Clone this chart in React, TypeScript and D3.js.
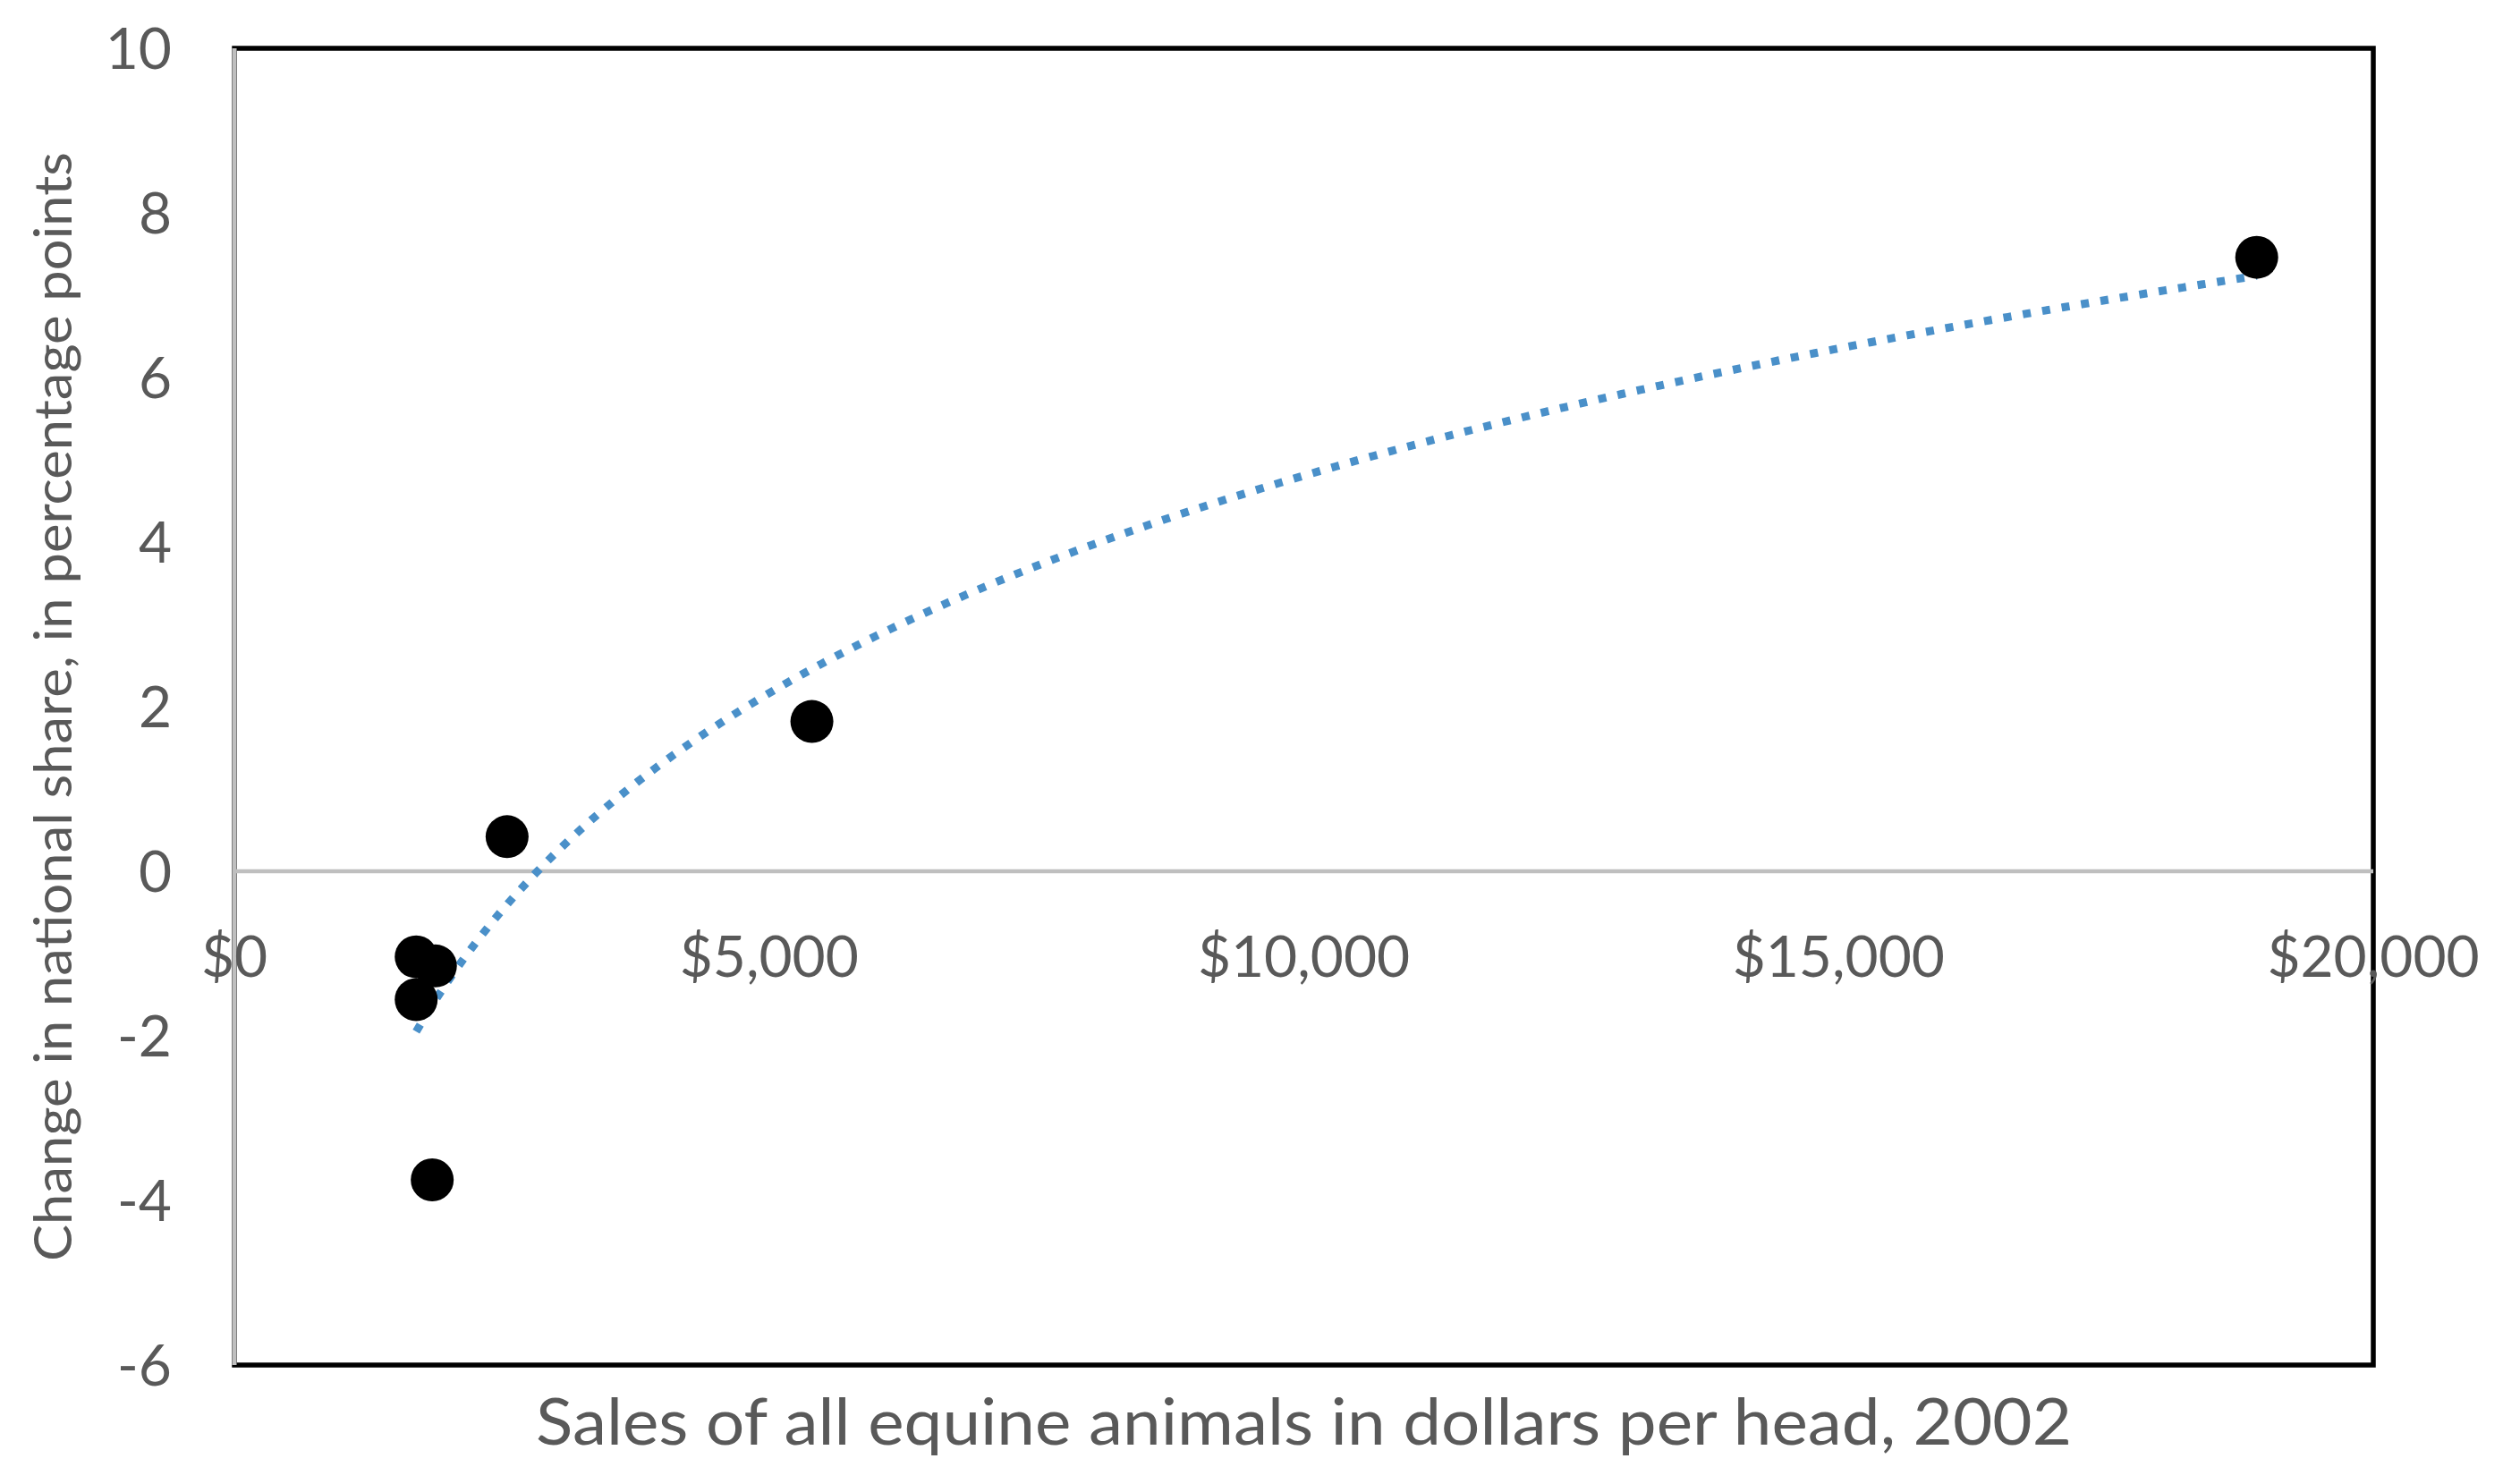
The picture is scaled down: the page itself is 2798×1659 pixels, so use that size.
import { useEffect, useRef } from 'react';
import * as d3 from 'd3';

// sales of equine animals per head (x) and change in national share (y)
const salesPerHead = [1700, 1700, 1880, 1850, 2550, 5400, 18910];
const shareChange = [-1.04, -1.56, -1.15, -3.75, 0.42, 1.82, 7.46];

const xTicks = [0, 5000, 10000, 15000, 20000];
const yTicks = [-6, -4, -2, 0, 2, 4, 6, 8, 10];

const xTitle = 'Sales of all equine animals in dollars per head, 2002';
const yTitle = 'Change in national share, in percentage points';

const CHART = {
    width: 2798,
    height: 1659,
    margin: { left: 262, right: 145, top: 54, bottom: 133 }
};

// least squares fit of y = a*ln(x) + b, like Excel's logarithmic trendline
function logFit(xs: number[], ys: number[]) {
    const lx = xs.map((x) => Math.log(x));
    const mx = d3.mean(lx) as number;
    const my = d3.mean(ys) as number;
    let sxy = 0, sxx = 0;
    lx.forEach((v, i) => {
        sxy += (v - mx) * (ys[i] - my);
        sxx += (v - mx) * (v - mx);
    });
    const a = sxy / sxx;
    const b = my - a * mx;
    return (x: number) => a * Math.log(x) + b;
}

export default function App() {
    const chartArea = useRef<SVGGElement>(null);

    const innerW = CHART.width - CHART.margin.left - CHART.margin.right;
    const innerH = CHART.height - CHART.margin.top - CHART.margin.bottom;

    const xScale = d3.scaleLinear().domain([0, 20000]).range([0, innerW]);
    const yScale = d3.scaleLinear().domain([-6, 10]).range([innerH, 0]);

    useEffect(() => {
        const g = d3.select(chartArea.current);
        g.selectAll('*').remove();

        const fit = logFit(salesPerHead, shareChange);
        const [xMin, xMax] = d3.extent(salesPerHead) as [number, number];
        const samples = d3.range(0, 201).map((i) => xMin + (xMax - xMin) * i / 200);

        // plot frame
        g.append('rect')
            .attr('x', 0).attr('y', 0)
            .attr('width', innerW).attr('height', innerH)
            .attr('fill', 'none')
            .attr('stroke', '#000')
            .attr('stroke-width', 5.5);

        // y axis line
        g.append('line')
            .attr('x1', 0).attr('x2', 0)
            .attr('y1', 0).attr('y2', innerH)
            .attr('stroke', '#bfbfbf')
            .attr('stroke-width', 5);

        // zero line (x axis)
        g.append('line')
            .attr('x1', 0).attr('x2', innerW)
            .attr('y1', yScale(0)).attr('y2', yScale(0))
            .attr('stroke', '#bfbfbf')
            .attr('stroke-width', 4.5);

        // y tick labels
        g.selectAll('.ytick').data(yTicks).enter().append('text')
            .attr('class', 'ytick')
            .attr('x', -70)
            .attr('y', (d) => yScale(d))
            .attr('dy', '0.36em')
            .attr('text-anchor', 'end')
            .attr('font-family', 'Lato, sans-serif')
            .attr('font-size', 64)
            .attr('fill', '#595959')
            .text((d) => d);

        // x tick labels, hung below the zero line
        const fmt = d3.format('$,');
        g.selectAll('.xtick').data(xTicks).enter().append('text')
            .attr('class', 'xtick')
            .attr('x', (d) => xScale(d))
            .attr('y', yScale(0) + 118)
            .attr('text-anchor', 'middle')
            .attr('font-family', 'Lato, sans-serif')
            .attr('font-size', 64)
            .attr('fill', '#595959')
            .text((d) => fmt(d));

        // trendline
        g.append('path')
            .datum(samples)
            .attr('fill', 'none')
            .attr('stroke', '#4a90c9')
            .attr('stroke-width', 9)
            .attr('stroke-dasharray', '9 13')
            .attr('d', d3.line<number>()
                .x((d) => xScale(d))
                .y((d) => yScale(fit(d))));

        // points
        g.selectAll('circle').data(salesPerHead).enter().append('circle')
            .attr('cx', (d) => xScale(d))
            .attr('cy', (d, i) => yScale(shareChange[i]))
            .attr('r', 24)
            .attr('fill', '#000');
    }, []);

    return (
        <div style={{ position: 'absolute', left: 0, top: 0 }}>
            <svg width={CHART.width} height={CHART.height} style={{ display: 'block', background: '#fff' }}>
                <g ref={chartArea}
                    transform={`translate(${CHART.margin.left}, ${CHART.margin.top})`} />

                {/* Axis titles */}
                <text x={CHART.margin.left + innerW / 2} y={1615}
                    textAnchor="middle" fontFamily="Lato, sans-serif" fontSize={72} fill="#595959"
                    textLength={1717} lengthAdjust="spacingAndGlyphs">
                    {xTitle}
                </text>
                <text transform={`translate(80, ${CHART.margin.top + innerH / 2}) rotate(-90)`}
                    textAnchor="middle" fontFamily="Lato, sans-serif" fontSize={58} fill="#595959"
                    textLength={1240} lengthAdjust="spacingAndGlyphs">
                    {yTitle}
                </text>
            </svg>
        </div>
    );
}
